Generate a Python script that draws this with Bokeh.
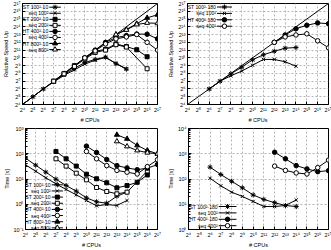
from bokeh.plotting import figure
from bokeh.layouts import column, row
from bokeh.models import FixedTicker, Range1d, LinearScale
from bokeh.embed import file_html
from bokeh.resources import INLINE
from bokeh.core.properties import value

FONT = "Liberation Sans"

# processor counts (x axis of every panel)
cpus = [16, 32, 64, 128, 256, 512, 1024, 2048, 4096, 8192, 16384, 32768, 65536, 131072]
cpu_labels = ["2⁴", "2⁵", "2⁶", "2⁷", "2⁸", "2⁹", "2¹⁰", "2¹¹", "2¹²", "2¹³",
              "2¹⁴", "2¹⁵", "2¹⁶", "2¹⁷"]
speedup_ticks = cpus
speedup_labels = cpu_labels
time_ticks_l = [0.1, 1, 10, 100, 1000]
time_labels_l = ["10⁻¹", "10⁰", "10¹", "10²", "10³"]
time_ticks_r = [1, 10, 100, 1000, 10000]
time_labels_r = ["10⁰", "10¹", "10²", "10³", "10⁴"]

# ---- relative speed up, 10 steps ----
tl_cpu_100 = [16, 32, 64, 128, 256, 512, 1024, 2048, 4096, 8192, 16384]
tl_st100 = [16, 32, 64, 124, 231, 402, 676, 891, 1097, 609, 375]
tl_seq100 = [16, 32, 64, 119, 215, 350, 588, 832, 1060, 630, 388]
tl_cpu_200 = [128, 256, 512, 1024, 2048, 4096, 8192, 16384, 32768, 65536]
tl_st200 = [128, 256, 512, 989, 1846, 2195, 3565, 2797, 2120, 1136]
tl_cpu_200s = [128, 256, 512, 1024, 2048, 4096, 8192, 16384, 65536]
tl_seq200 = [128, 247, 478, 923, 1663, 2048, 3327, 2702, 388]
tl_cpu_400 = [1024, 2048, 4096, 8192, 16384, 32768, 65536, 131072]
tl_ht400 = [1024, 2048, 4096, 6208, 7484, 8597, 8478, 5595]
tl_seq400 = [1024, 1911, 3566, 5595, 6654, 8192, 4096, 2048]
tl_cpu_800 = [8192, 16384, 32768, 65536, 131072]
tl_ht800 = [8192, 12850, 21619, 36353, 47963]
tl_seq800 = [8192, 12417, 20171, 23170, 22381]

# ---- relative speed up, 180 steps ----
tr_cpu_100 = [64, 128, 256, 512, 1024, 2048, 4096, 8192, 16384]
tr_st100 = [64, 128, 247, 446, 861, 1351, 1846, 2436, 2574]
tr_seq100 = [64, 128, 208, 315, 530, 891, 891, 724, 488]
tr_cpu_400 = [4096, 8192, 16384, 32768, 65536, 131072]
tr_ht400 = [4096, 7913, 13777, 18820, 23170, 21619]
tr_seq400 = [4096, 6654, 7913, 8780, 4705, 2521]

# ---- run time [s], 10 steps ----
bl_st100 = [66.8, 35.3, 18.7, 9.84, 5.53, 3.30, 1.79, 1.25, 1.10, 2.09, 3.01]
bl_seq100 = [36.4, 20.4, 11.1, 6.44, 3.84, 2.36, 1.41, 0.865, 0.977, 0.891, 1.41]
bl_st200 = [123, 63.1, 32.4, 15.5, 10.2, 7.08, 4.47, 5.50, 7.41, 14.5]
bl_seq200 = [63.1, 32.4, 17.0, 9.27, 4.60, 3.20, 2.59, 3.01, 20.9]
bl_ht400 = [200, 112, 58.9, 33.9, 27.5, 23.4, 26.9, 37.2]
bl_seq400 = [123, 63.1, 33.9, 21.9, 18.6, 15.8, 30.9, 58.0]
bl_ht800 = [562, 389, 214, 135, 100]
bl_seq800 = [309, 195, 135, 110, 100]

# ---- run time [s], 180 steps ----
br_st100 = [295, 151, 81.3, 44.7, 23.4, 15.5, 11.5, 8.91, 8.13]
br_seq100 = [107, 53.7, 30.2, 20.4, 12.9, 8.13, 8.13, 8.91, 14.8]
br_ht400 = [1148, 631, 339, 251, 195, 214]
br_seq400 = [324, 219, 174, 158, 282, 560]

labels_10 = ["ST 100²·10", "seq 100²", "ST 200²·10", "seq 200²",
             "HT 400²·10", "seq 400²", "HT 800²·10", "seq 800²"]
labels_180 = ["ST 100²·180", "seq 100²", "HT 400²·180", "seq 400²"]

# marker style per series kind: (marker, filled, size)
STYLE = {
    "st100": ("asterisk", True, 5),
    "seq100": ("x", True, 4.5),
    "st200": ("square", True, 4),
    "seq200": ("square", False, 4),
    "ht400": ("circle", True, 4.5),
    "seq400": ("circle", False, 4.5),
    "ht800": ("triangle", True, 5),
    "seq800": ("triangle", False, 5),
}

GRID = "#b4b4b4"


def panel(width, height, left, right, top, bottom, y_lo, y_hi, y_ticks, y_labels,
          y_minor, ylabel):
    p = figure(width=width, height=height, x_axis_type="log", y_axis_type="log",
               x_range=Range1d(cpus[0], cpus[-1]), y_range=Range1d(y_lo, y_hi),
               output_backend="svg", toolbar_location=None,
               min_border_left=left, min_border_right=right,
               min_border_top=top, min_border_bottom=bottom)
    p.background_fill_color = "white"
    p.border_fill_color = "white"
    p.outline_line_color = "black"
    p.outline_line_width = 1

    p.xaxis.ticker = FixedTicker(ticks=cpus, minor_ticks=[])
    p.xaxis.major_label_overrides = dict(zip(cpus, cpu_labels))
    p.yaxis.ticker = FixedTicker(ticks=y_ticks, minor_ticks=y_minor)
    p.yaxis.major_label_overrides = dict(zip(y_ticks, y_labels))
    p.xaxis.axis_label = "# CPUs"
    p.yaxis.axis_label = ylabel

    for ax in (p.xaxis, p.yaxis):
        ax.major_label_text_font = FONT
        ax.major_label_text_font_size = "5.5px"
        ax.major_label_text_color = "black"
        ax.axis_label_text_font = FONT
        ax.axis_label_text_font_size = "5.5px"
        ax.axis_label_text_font_style = "normal"
        ax.axis_label_text_color = "black"
        ax.axis_line_color = "black"
        ax.major_tick_in = 3
        ax.major_tick_out = 0
        ax.minor_tick_in = 2
        ax.minor_tick_out = 0
        ax.major_tick_line_color = "black"
        ax.minor_tick_line_color = "black"
        ax.major_label_standoff = 2
        ax.axis_label_standoff = 1

    for g in (p.xgrid, p.ygrid):
        g.grid_line_color = GRID
        g.grid_line_dash = "2 2"
        g.grid_line_width = 1

    # pixel-space ranges over the frame, used to lay out the key
    fw = width - left - right
    fh = height - top - bottom
    p.extra_x_ranges = {"px": Range1d(0, fw)}
    p.extra_y_ranges = {"py": Range1d(0, fh)}
    p.extra_x_scales = {"px": LinearScale()}
    p.extra_y_scales = {"py": LinearScale()}
    return p


def series(p, xs, ys, kind):
    marker, filled, size = STYLE[kind]
    p.line(xs, ys, line_color="black", line_width=1)
    p.scatter(xs, ys, marker=marker, size=size, line_color="black", line_width=1,
              fill_color="black" if filled else "white")


def key(p, labels, kinds, x_text, x0, x1, y_top, step):
    for i, (lab, kind) in enumerate(zip(labels, kinds)):
        yy = y_top - i * step
        marker, filled, size = STYLE[kind]
        p.line([x0, x1], [yy, yy], x_range_name="px", y_range_name="py",
               line_color="black", line_width=1)
        p.scatter([(x0 + x1) / 2], [yy], x_range_name="px", y_range_name="py",
                  marker=marker, size=size, line_color="black", line_width=1,
                  fill_color="black" if filled else "white")
        p.text([x_text], [yy], text=[lab], x_range_name="px", y_range_name="py",
               text_align="right", text_baseline="middle",
               text_font=value(FONT), text_font_size="5.1px", text_color="black")


kinds_10 = ["st100", "seq100", "st200", "seq200", "ht400", "seq400", "ht800", "seq800"]
kinds_180 = ["st100", "seq100", "ht400", "seq400"]

log10_minor_l = [m * 10.0 ** d for d in range(-1, 3) for m in range(2, 10)]
log10_minor_r = [m * 10.0 ** d for d in range(0, 4) for m in range(2, 10)]

# top left: speed up, 10 steps
p1 = panel(165, 125, 16, 8, 3, 21, 16, 131072, speedup_ticks, speedup_labels, [],
           "Relative Speed Up")
p1.line(cpus, cpus, line_color="black", line_width=1)
series(p1, tl_cpu_100, tl_st100, "st100")
series(p1, tl_cpu_100, tl_seq100, "seq100")
series(p1, tl_cpu_200, tl_st200, "st200")
series(p1, tl_cpu_200s, tl_seq200, "seq200")
series(p1, tl_cpu_400, tl_ht400, "ht400")
series(p1, tl_cpu_400, tl_seq400, "seq400")
series(p1, tl_cpu_800, tl_ht800, "ht800")
series(p1, tl_cpu_800, tl_seq800, "seq800")
key(p1, labels_10, kinds_10, 27, 28, 40, 97.3, 6.05)

# top right: speed up, 180 steps
p2 = panel(166, 125, 17, 3, 3, 21, 16, 131072, speedup_ticks, speedup_labels, [],
           "Relative Speed Up")
p2.line(cpus, cpus, line_color="black", line_width=1)
series(p2, tr_cpu_100, tr_st100, "st100")
series(p2, tr_cpu_100, tr_seq100, "seq100")
series(p2, tr_cpu_400, tr_ht400, "ht400")
series(p2, tr_cpu_400, tr_seq400, "seq400")
key(p2, labels_180, kinds_180, 29.5, 30.5, 46, 97.5, 6.4)

# bottom left: run time, 10 steps
p3 = panel(165, 125, 16, 8, 3, 21, 0.1, 1000, time_ticks_l, time_labels_l,
           log10_minor_l, "Time [s]")
series(p3, tl_cpu_100, bl_st100, "st100")
series(p3, tl_cpu_100, bl_seq100, "seq100")
series(p3, tl_cpu_200, bl_st200, "st200")
series(p3, tl_cpu_200s, bl_seq200, "seq200")
series(p3, tl_cpu_400, bl_ht400, "ht400")
series(p3, tl_cpu_400, bl_seq400, "seq400")
series(p3, tl_cpu_800, bl_ht800, "ht800")
series(p3, tl_cpu_800, bl_seq800, "seq800")
key(p3, labels_10, kinds_10, 27, 28, 40, 44.7, 6.15)

# bottom right: run time, 180 steps
p4 = panel(166, 125, 17, 3, 3, 21, 1, 10000, time_ticks_r, time_labels_r,
           log10_minor_r, "Time [s]")
series(p4, tr_cpu_100, br_st100, "st100")
series(p4, tr_cpu_100, br_seq100, "seq100")
series(p4, tr_cpu_400, br_ht400, "ht400")
series(p4, tr_cpu_400, br_seq400, "seq400")
key(p4, labels_180, kinds_180, 30.5, 31.5, 50, 23, 6.4)

layout = column(row(p1, p2), row(p3, p4))
open("out.html", "w").write(file_html(layout, INLINE))
